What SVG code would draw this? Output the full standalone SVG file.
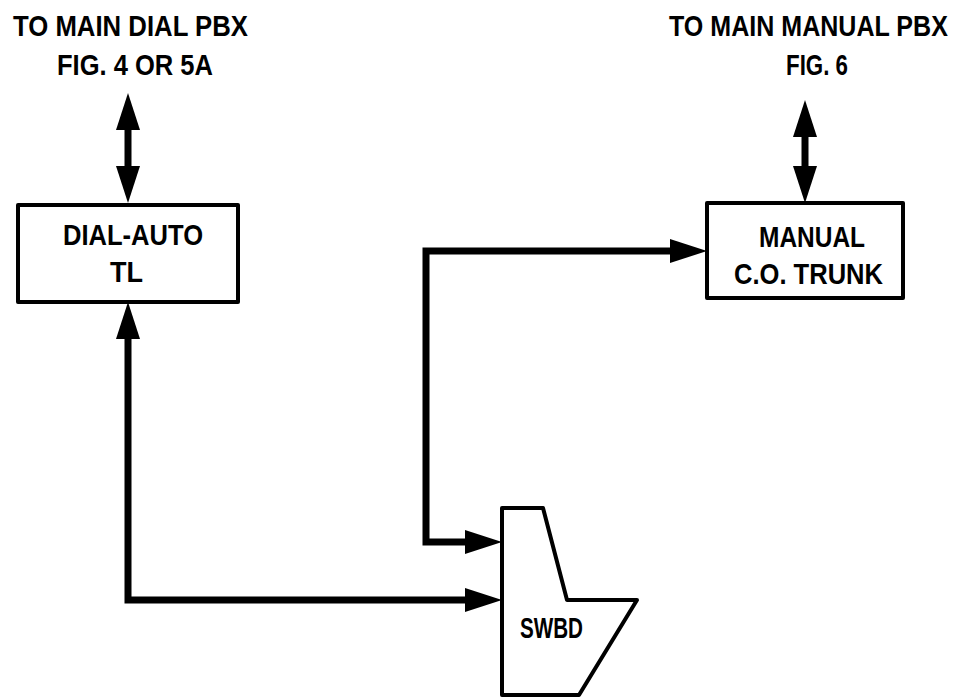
<svg xmlns="http://www.w3.org/2000/svg" width="959" height="698" viewBox="0 0 959 698">
<style>
.t{font-family:"Liberation Sans",Arial,sans-serif;font-size:30px;font-weight:bold;fill:#000;}
.box{fill:#fff;stroke:#000;stroke-width:4;stroke-linejoin:round;}
.c{fill:none;stroke:#000;stroke-width:7;stroke-linejoin:miter;}
</style>
<defs>
<marker id="ah" markerUnits="userSpaceOnUse" markerWidth="40" markerHeight="26" refX="0" refY="12" orient="auto-start-reverse" viewBox="0 0 40 26">
<path d="M0,0 L37,12 L0,24 Z" fill="#000"/>
</marker>
</defs>
<rect width="959" height="698" fill="#fff"/>
<g id="labels">
<text class="t" x="13" y="36" textLength="235" lengthAdjust="spacingAndGlyphs">TO MAIN DIAL PBX</text>
<text class="t" x="57" y="75" textLength="156" lengthAdjust="spacingAndGlyphs">FIG. 4 OR 5A</text>
<text class="t" transform="translate(669,36) scale(0.83,1)" x="0" y="0" textLength="336" lengthAdjust="spacingAndGlyphs">TO MAIN MANUAL PBX</text>
<text class="t" x="786" y="75" textLength="62" lengthAdjust="spacingAndGlyphs">FIG. 6</text>
</g>
<g id="connectors">
<path class="c" d="M128,130 L128,166" marker-start="url(#ah)" marker-end="url(#ah)"/>
<path class="c" d="M805,137 L805,166" marker-start="url(#ah)" marker-end="url(#ah)"/>
<path class="c" d="M128,339 L128,600 L465,600" marker-start="url(#ah)" marker-end="url(#ah)"/>
<path class="c" d="M465,542 L426,542 L426,251 L670,251" marker-start="url(#ah)" marker-end="url(#ah)"/>
</g>
<g id="dial-auto">
<rect class="box" x="18" y="205" width="220" height="97"/>
<text class="t" x="63" y="245" textLength="140" lengthAdjust="spacingAndGlyphs">DIAL-AUTO</text>
<text class="t" x="110" y="282" textLength="33" lengthAdjust="spacingAndGlyphs">TL</text>
</g>
<g id="manual">
<rect class="box" x="707" y="203" width="196" height="95"/>
<text class="t" x="759" y="247" textLength="106" lengthAdjust="spacingAndGlyphs">MANUAL</text>
<text class="t" x="734" y="284" textLength="149" lengthAdjust="spacingAndGlyphs">C.O. TRUNK</text>
</g>
<g id="swbd">
<polygon class="box" points="502,508 543,508 567,600 637,600 579,695 502,695" stroke-linejoin="miter"/>
<text class="t" x="520" y="638" textLength="63" lengthAdjust="spacingAndGlyphs">SWBD</text>
</g>
</svg>
